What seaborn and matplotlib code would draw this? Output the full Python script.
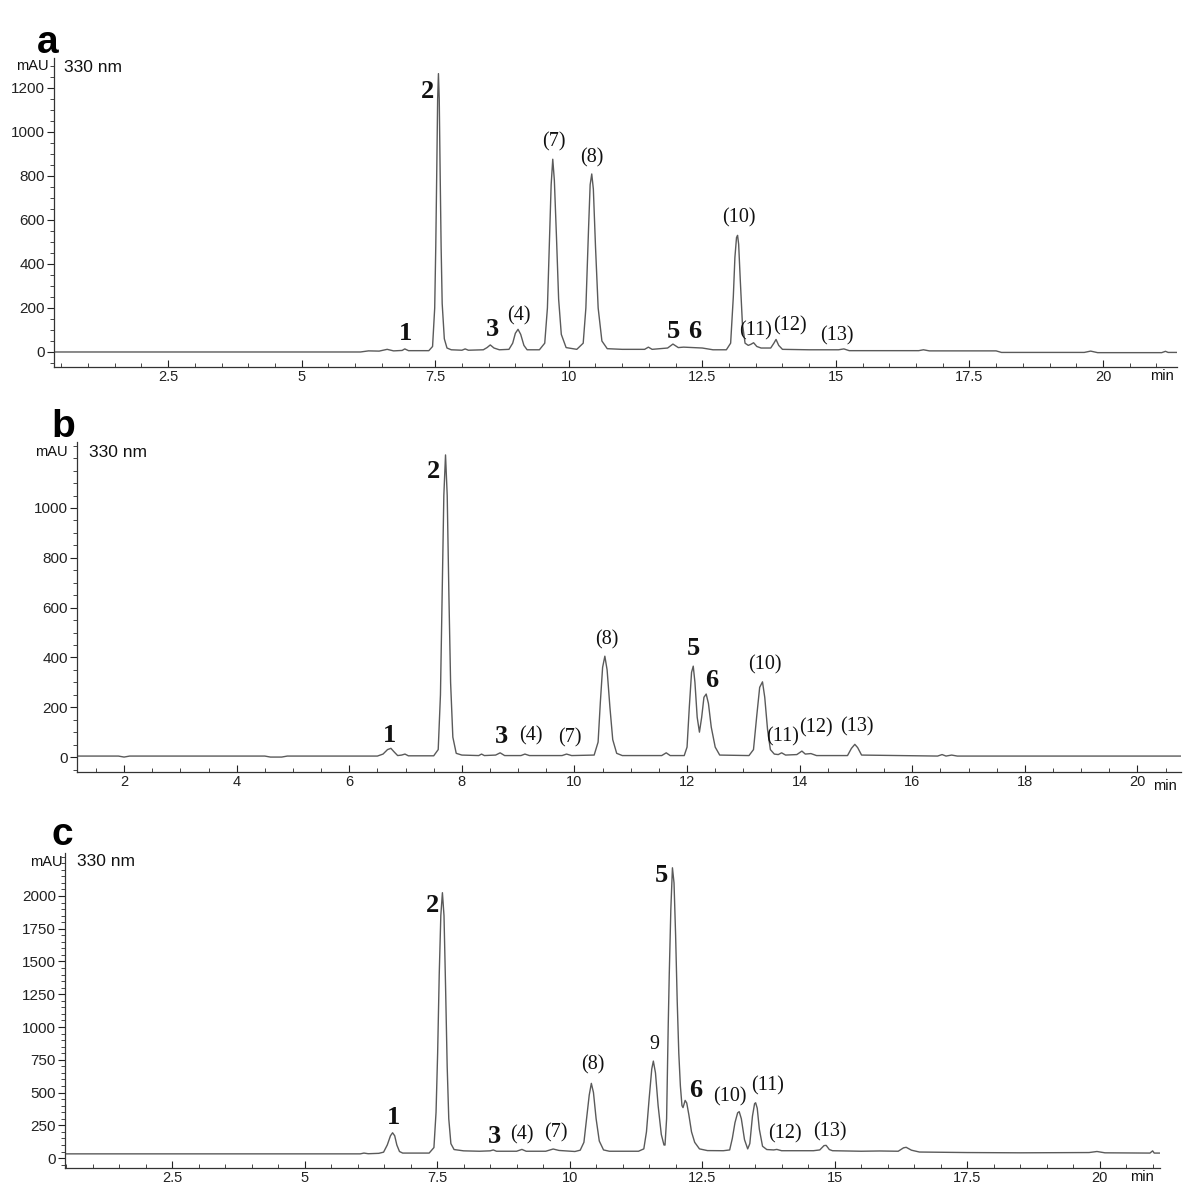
import seaborn as sns
import matplotlib.pyplot as plt
from matplotlib.ticker import MultipleLocator, FuncFormatter

# Chromatogram vertices (time in min, absorbance in mAU)
time_a = [0.36, 6.10, 6.25, 6.45, 6.60, 6.72, 6.88, 6.93, 7.00, 7.38, 7.45, 7.49, 7.51, 7.53, 7.545,
          7.56, 7.575, 7.59, 7.61, 7.63, 7.67, 7.72, 7.80, 8.00, 8.06, 8.12, 8.40, 8.47, 8.53, 8.60,
          8.70, 8.88, 8.95, 9.00, 9.05, 9.10, 9.16, 9.22, 9.45, 9.55, 9.60, 9.64, 9.67, 9.70, 9.73,
          9.77, 9.81, 9.86, 9.95, 10.15, 10.27, 10.32, 10.37, 10.40, 10.43, 10.46, 10.50, 10.55,
          10.62, 10.72, 11.00, 11.42, 11.49, 11.56, 11.85, 11.95, 12.05, 12.15, 12.50, 12.70, 12.95,
          13.03, 13.08, 13.11, 13.14, 13.16, 13.18, 13.21, 13.25, 13.30, 13.36, 13.41, 13.46, 13.52,
          13.60, 13.78, 13.84, 13.88, 13.93, 14.00, 14.50, 15.05, 15.15, 15.25, 16.00, 16.55, 16.64,
          16.75, 18.00, 18.10, 19.65, 19.77, 19.90, 21.10, 21.17, 21.22, 21.54]
mau_a = [0, 0, 5, 4, 12, 5, 7, 14, 6, 6, 25, 200, 480, 850, 1150,
         1265, 1150, 850, 480, 220, 60, 18, 10, 8, 14, 8, 10, 20, 32, 18,
         10, 12, 40, 85, 103, 80, 30, 10, 10, 40, 200, 520, 760, 876, 780,
         520, 240, 80, 20, 12, 40, 200, 560, 760, 809, 740, 480, 200,
         50, 15, 12, 12, 22, 12, 18, 36, 20, 22, 18, 10, 10,
         40, 250, 430, 520, 530, 490, 330, 130, 40, 30, 35, 42, 25,
         18, 18, 40, 57, 30, 12, 10, 10, 14, 6, 6, 6, 10,
         5, 5, -2, -2, 4, -3, -3, 3, -2, -2]

time_b = [1.165, 1.90, 2.00, 2.10, 4.50, 4.60, 4.80, 4.90, 6.50, 6.60, 6.68, 6.74, 6.80, 6.86, 6.93,
          6.99, 7.05, 7.50, 7.58, 7.62, 7.65, 7.68, 7.71, 7.74, 7.77, 7.80, 7.84, 7.90, 8.00, 8.30,
          8.35, 8.40, 8.60, 8.68, 8.76, 9.05, 9.12, 9.20, 9.78, 9.86, 9.95, 10.35, 10.42, 10.46,
          10.50, 10.54, 10.58, 10.63, 10.68, 10.75, 10.85, 11.55, 11.63, 11.70, 11.95, 12.00, 12.04,
          12.08, 12.11, 12.14, 12.18, 12.22, 12.26, 12.30, 12.34, 12.38, 12.43, 12.50, 12.58, 13.10,
          13.18, 13.24, 13.29, 13.34, 13.38, 13.43, 13.48, 13.55, 13.62, 13.68, 13.75, 13.95, 14.04,
          14.10, 14.20, 14.30, 14.85, 14.92, 14.98, 15.03, 15.10, 16.45, 16.53, 16.60, 16.70, 16.80,
          20.77]
mau_b = [4, 4, 0, 4, 4, 0, 0, 4, 4, 12, 30, 35, 20, 6, 8,
         12, 5, 5, 30, 250, 650, 1050, 1213, 1050, 650, 300, 80, 15, 8, 6,
         12, 6, 8, 17, 6, 6, 12, 6, 6, 12, 6, 8, 60, 220,
         360, 405, 350, 200, 70, 15, 6, 6, 17, 6, 6, 40, 200,
         340, 365, 300, 160, 100, 160, 240, 253, 215, 120, 40, 8, 6,
         30, 170, 280, 302, 240, 110, 30, 12, 10, 17, 8, 10, 24,
         12, 14, 6, 6, 35, 51, 38, 8, 4, 10, 4, 8, 4,
         4]

time_c = [0.48, 6.05, 6.12, 6.20, 6.40, 6.49, 6.56, 6.62, 6.66, 6.70, 6.74, 6.79, 6.85, 7.35, 7.44,
          7.48, 7.51, 7.54, 7.57, 7.60, 7.63, 7.66, 7.69, 7.72, 7.76, 7.82, 8.00, 8.30, 8.50, 8.56,
          8.62, 9.00, 9.10, 9.18, 9.55, 9.69, 9.80, 10.10, 10.20, 10.27, 10.32, 10.37, 10.41, 10.45,
          10.50, 10.56, 10.64, 10.75, 11.30, 11.40, 11.45, 11.50, 11.55, 11.58, 11.62, 11.67, 11.73,
          11.78, 11.80, 11.83, 11.86, 11.88, 11.91, 11.94, 11.97, 12.00, 12.03, 12.06, 12.09, 12.12,
          12.14, 12.18, 12.21, 12.25, 12.30, 12.36, 12.45, 12.60, 12.90, 13.02, 13.07, 13.12, 13.17,
          13.20, 13.24, 13.30, 13.36, 13.40, 13.45, 13.49, 13.51, 13.54, 13.58, 13.64, 13.72, 13.85,
          13.91, 14.00, 14.60, 14.72, 14.80, 14.84, 14.90, 14.96, 15.50, 15.85, 16.20, 16.30, 16.35,
          16.45, 16.60, 17.50, 18.50, 19.80, 19.95, 20.10, 20.95, 21.00, 21.03, 21.14]
mau_c = [32, 32, 38, 33, 36, 45, 100, 170, 193, 170, 100, 50, 38, 38, 80,
         350, 800, 1400, 1850, 2025, 1850, 1300, 700, 300, 110, 65, 55, 52, 55, 62,
         52, 52, 66, 52, 52, 69, 58, 50, 60, 120, 300, 480, 570, 500,
         300, 130, 62, 52, 52, 70, 200, 450, 680, 740, 650, 400, 180,
         100, 99, 300, 1000, 1400, 1900, 2215, 2100, 1700, 1200, 800, 550, 400,
         385, 440, 420, 330, 200, 120, 70, 57, 56, 62, 150, 270, 345,
         354, 300, 140, 70, 110, 320, 415, 422, 380, 220, 90, 65, 62,
         66, 56, 56, 62, 95, 97, 65, 56, 52, 54, 52, 78, 82,
         60, 46, 42, 40, 42, 50, 40, 38, 55, 38, 38]

# Peak labels: text, time, mAU, bold
labels_a = ["1", "2", "3", "(4)", "(7)", "(8)", "5", "6", "(10)", "(11)", "(12)", "(13)"]
label_t_a = [6.945, 7.35, 8.566, 9.06, 9.717, 10.428, 11.96, 12.35, 13.18, 13.49, 14.14, 15.02]
label_v_a = [82, 1182, 100, 164, 955, 882, 91, 91, 609, 95, 118, 73]

labels_b = ["1", "2", "3", "(4)", "(7)", "(8)", "5", "6", "(10)", "(11)", "(12)", "(13)"]
label_t_b = [6.72, 7.50, 8.71, 9.23, 9.92, 10.57, 12.12, 12.44, 13.38, 13.70, 14.29, 15.02]
label_v_b = [88, 1145, 84, 84, 76, 470, 436, 309, 369, 82, 116, 120]

labels_c = ["1", "2", "3", "(4)", "(7)", "(8)", "9", "5", "6", "(10)", "(11)", "(12)", "(13)"]
label_t_c = [6.68, 7.42, 8.58, 9.10, 9.75, 10.43, 11.59, 11.73, 12.37, 13.03, 13.73, 14.06, 14.92]
label_v_c = [313, 1924, 168, 176, 191, 710, 863, 2160, 515, 466, 550, 183, 202]

bold_labels = {"1", "2", "3", "5", "6"}

sns.set_theme(style="ticks")
plt.rcParams['font.family'] = ['Liberation Sans', 'DejaVu Sans']

fig = plt.figure(figsize=(12, 11.91), dpi=100)

panels = [
    dict(rect=[0.045, 0.6919, 0.936, 0.2594], t=time_a, v=mau_a, xlim=(0.363, 21.39),
         ylim=(-68, 1336), xt=[2.5, 5, 7.5, 10, 12.5, 15, 17.5, 20], yt=list(range(0, 1201, 200)),
         labels=(labels_a, label_t_a, label_v_a), mau=(1300, -5), nm=(1291, 10), unit=(21.11, -0.029),
         letter=("a", 0.031, 0.9555)),
    dict(rect=[0.0642, 0.3518, 0.9198, 0.2771], t=time_b, v=mau_b, xlim=(1.165, 20.77),
         ylim=(-60, 1265), xt=list(range(2, 21, 2)), yt=list(range(0, 1001, 200)),
         labels=(labels_b, label_t_b, label_v_b), mau=(1225, -9), nm=(1221, 12), unit=(20.49, -0.042),
         letter=("b", 0.043, 0.633)),
    dict(rect=[0.0542, 0.0193, 0.9125, 0.2645], t=time_c, v=mau_c, xlim=(0.48, 21.14),
         ylim=(-76, 2328), xt=[2.5, 5, 7.5, 10, 12.5, 15, 17.5, 20], yt=list(range(0, 2001, 250)),
         labels=(labels_c, label_t_c, label_v_c), mau=(2260, -2), nm=(2260, 12), unit=(20.80, -0.029),
         letter=("c", 0.043, 0.2905)),
]

for p in panels:
    ax = fig.add_axes(p["rect"])
    sns.lineplot(x=p["t"], y=p["v"], ax=ax, color="#5a5a5a", linewidth=1.0,
                 estimator=None, sort=False)
    ax.set_xlim(*p["xlim"])
    ax.set_ylim(*p["ylim"])
    ax.set_xticks(p["xt"])
    ax.set_yticks(p["yt"])
    ax.xaxis.set_minor_locator(MultipleLocator(0.5))
    ax.yaxis.set_minor_locator(MultipleLocator(50))
    ax.xaxis.set_major_formatter(FuncFormatter(lambda x, pos: "%g" % x))
    ax.tick_params(axis="x", which="major", direction="in", length=5, width=0.8, pad=2,
                   labelsize=10.5, colors="#222222")
    ax.tick_params(axis="x", which="minor", direction="in", length=3, width=0.7, colors="#444444")
    ax.tick_params(axis="y", which="major", direction="out", length=5, width=0.8, pad=1.5,
                   labelsize=11, colors="#222222")
    ax.tick_params(axis="y", which="minor", direction="out", length=3, width=0.7, colors="#444444")
    sns.despine(ax=ax)
    for side in ("left", "bottom"):
        ax.spines[side].set_linewidth(0.9)
        ax.spines[side].set_color("#333333")

    ax.annotate("mAU", xy=(0, p["mau"][0]), xycoords=ax.get_yaxis_transform(),
                xytext=(p["mau"][1], 0), textcoords="offset pixels",
                ha="right", va="center", fontsize=10.5, color="#111111")
    ax.annotate("330 nm", xy=(0, p["nm"][0]), xycoords=ax.get_yaxis_transform(),
                xytext=(p["nm"][1], 0), textcoords="offset pixels",
                ha="left", va="center", fontsize=12.5, color="#111111")
    ax.text(p["unit"][0], p["unit"][1], "min", transform=ax.get_xaxis_transform(),
            ha="center", va="center", fontsize=10.5, color="#111111")

    texts, ts, vs = p["labels"]
    for txt, tt, vv in zip(texts, ts, vs):
        bold = txt in bold_labels
        ax.text(tt, vv, txt, ha="center", va="center",
                family=["Liberation Serif", "DejaVu Serif"],
                fontsize=19 if bold else 14.5,
                fontweight="bold" if bold else "normal", color="#111111")

    letter, lx, ly = p["letter"]
    fig.text(lx, ly, letter, fontsize=28, fontweight="bold", va="baseline", ha="left",
             color="#000000")

fig.savefig("out.png", dpi=100, facecolor="white")
